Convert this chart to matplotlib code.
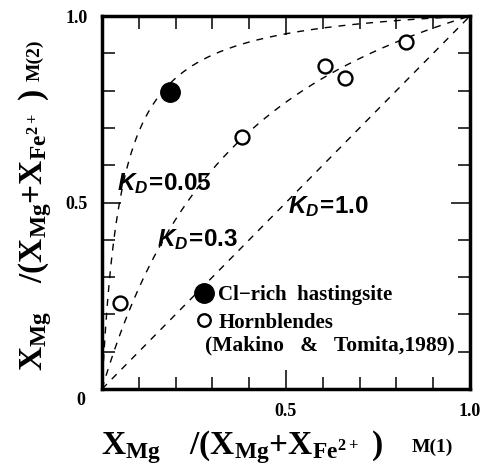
import numpy as np
import matplotlib
matplotlib.use("Agg")
import matplotlib.pyplot as plt
from matplotlib.lines import Line2D

# ---------------------------------------------------------------- data
KD_VALUES = [0.05, 0.3, 1.0]
KD_LABELS = ["0.05", "0.3", "1.0"]
KD_LABEL_POS = [(0.04, 0.55), (0.15, 0.40), (0.505, 0.49)]

HASTINGSITE_X = [0.185]
HASTINGSITE_Y = [0.795]

HBL_X = [0.05, 0.38, 0.605, 0.66, 0.825]
HBL_Y = [0.23, 0.675, 0.865, 0.835, 0.93]

TICKS = [0.0, 0.5, 1.0]
TICK_LABELS = ["", "0.5", "1.0"]

# ---------------------------------------------------------------- style
plt.rcParams["font.family"] = ["Liberation Serif", "DejaVu Serif"]
plt.rcParams["font.weight"] = "bold"
plt.rcParams["mathtext.fontset"] = "custom"
plt.rcParams["mathtext.rm"] = "Liberation Serif:bold"
plt.rcParams["mathtext.bf"] = "Liberation Serif:bold"
plt.rcParams["mathtext.it"] = "Liberation Sans:italic"
plt.rcParams["mathtext.sf"] = "Liberation Sans"

fig = plt.figure(figsize=(4.92, 4.72), dpi=100)
ax = fig.add_axes([0.2073, 0.1758, 0.748, 0.7903])

# iso-K_D curves: X(2) = X(1) / (X(1) + K_D (1 - X(1)))
x = np.linspace(0, 1, 400)
for kd in KD_VALUES:
    y = x / (x + kd * (1 - x))
    ax.plot(x, y, color="black", lw=1.0, dashes=(5, 5))

for kd_text, (tx, ty) in zip(KD_LABELS, KD_LABEL_POS):
    ax.text(tx, ty, r"$K_D\!\mathsf{=}\!\mathsf{" + kd_text + "}$",
            fontsize=17.5, ha="left", va="center")

ax.plot(HASTINGSITE_X, HASTINGSITE_Y, "o", ms=14, color="black", zorder=5)
ax.plot(HBL_X, HBL_Y, "o", ms=10, mfc="white", mec="black", mew=1.7, zorder=5)

# legend
handles = [
    Line2D([], [], ls="none", marker="o", ms=14, color="black"),
    Line2D([], [], ls="none", marker="o", ms=9, mfc="white", mec="black", mew=1.7),
]
ax.legend(handles, ["Cl\u2212rich  hastingsite", "Hornblendes"],
          loc="upper left", bbox_to_anchor=(0.22, 0.30), frameon=False,
          handlelength=1.2, handletextpad=0.1, labelspacing=0.35,
          borderaxespad=0,
          prop={"family": "Liberation Serif", "weight": "bold", "size": 15})
ax.text(0.28, 0.118, "(Makino   &   Tomita,1989)", fontsize=15.5,
        fontweight="bold", ha="left", va="center")

# axes
ax.set_xlim(0, 1)
ax.set_ylim(0, 1)
ax.set_xticks(TICKS)
ax.set_yticks(TICKS)
ax.set_xticklabels(TICK_LABELS)
ax.set_yticklabels(TICK_LABELS)
ax.set_xticks(np.arange(0.1, 1.0, 0.1), minor=True)
ax.set_yticks(np.arange(0.1, 1.0, 0.1), minor=True)
ax.tick_params(which="both", direction="in", top=True, right=True, width=1.1)
ax.tick_params(which="major", length=14, labelsize=13, pad=10)
ax.tick_params(which="minor", length=9)
for sp in ax.spines.values():
    sp.set_linewidth(2.5)
ax.text(-0.045, -0.03, "0", transform=ax.transAxes, fontsize=13,
        fontweight="bold", ha="right", va="center")

# axis titles
title_text = r"$\mathrm{X_{Mg}\ \ \ /(X_{Mg}{+}X_{Fe^{2+}}\ )}$"
fig.text(0.492, 0.052, title_text, fontsize=24, ha="center", va="center")
fig.text(0.878, 0.052, "M(1)", fontsize=14, fontweight="bold",
         ha="center", va="center")
fig.text(0.071, 0.513, title_text, fontsize=24, ha="center", va="center",
         rotation=90)
fig.text(0.071, 0.873, "M(2)", fontsize=14, fontweight="bold",
         ha="center", va="center", rotation=90)

fig.savefig("out.png", dpi=100)
